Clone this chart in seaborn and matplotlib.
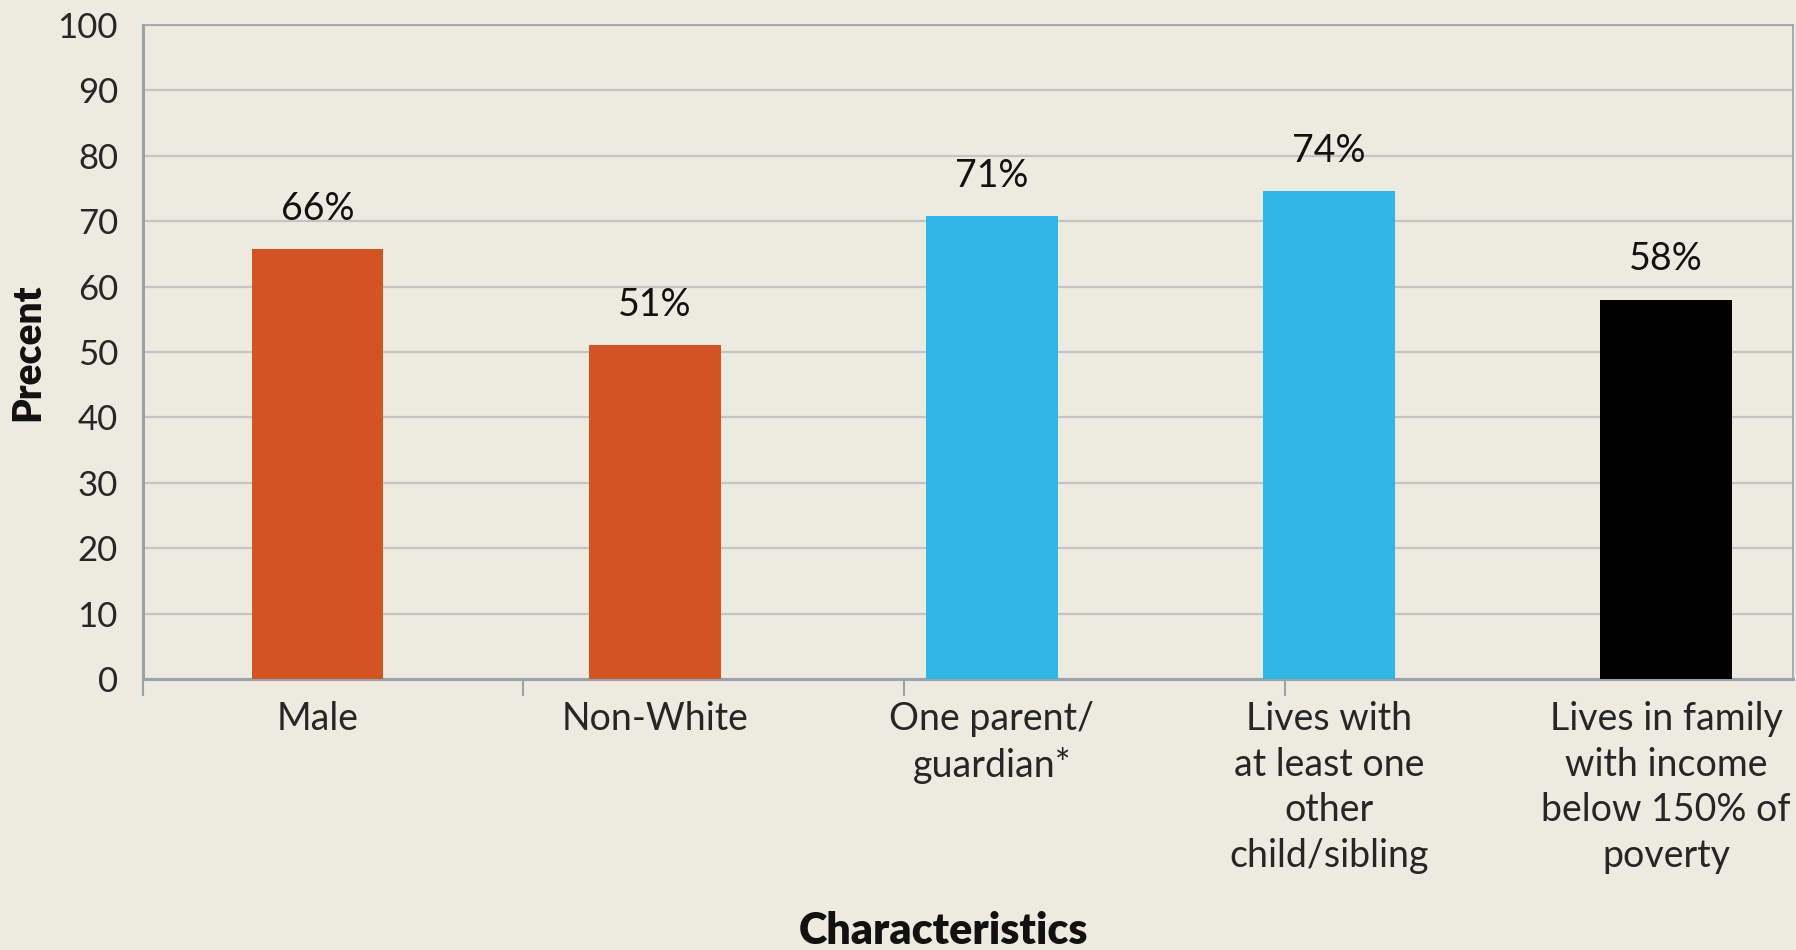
import matplotlib
matplotlib.use("Agg")
import matplotlib.pyplot as plt
import seaborn as sns
import pandas as pd

categories = ["Male", "Non-White", "One parent/\nguardian*",
              "Lives with\nat least one\nother\nchild/sibling",
              "Lives in family\nwith income\nbelow 150% of\npoverty"]
values = [65.7, 51.0, 70.8, 74.6, 58.0]
value_labels = ["66%", "51%", "71%", "74%", "58%"]
colors = ["#D35322", "#D35322", "#2FB6E5", "#2FB6E5", "#000000"]
y_ticks = [0, 10, 20, 30, 40, 50, 60, 70, 80, 90, 100]

BG = "#EDEBE0"
sns.set_theme(style="white")
plt.rcParams["font.family"] = ["Lato", "DejaVu Sans"]

fig = plt.figure(figsize=(17.96, 9.5), dpi=100, facecolor=BG)
ax = fig.add_axes([143/1796, 1-679/950, (1793-143)/1796, (679-25)/950])
ax.set_facecolor(BG)

df = pd.DataFrame({"cat": categories, "val": values})
sns.barplot(data=df, x="cat", y="val", hue="cat", palette=colors,
            legend=False, width=0.39, saturation=1, ax=ax, zorder=3,
            linewidth=0, edgecolor="none")

ax.set_ylim(0, 100)
ax.set_xlim(-0.518, 4.376)
ax.set_yticks(y_ticks)
ax.set_yticklabels([str(t) for t in y_ticks], fontsize=25)
ax.yaxis.grid(True, color="#C4C4C2", linewidth=1.6, zorder=0)
ax.set_axisbelow(True)
ax.tick_params(axis="y", length=0, pad=18)
ax.tick_params(axis="x", which="major", length=0, pad=16, labelsize=27)
for lab in ax.get_xticklabels():
    lab.set_linespacing(1.33)
    lab.set_verticalalignment("top")

ax.set_xticks([-0.518, 0.61, 1.74, 2.87], minor=True)
ax.tick_params(axis="x", which="minor", bottom=True, length=12, width=1.5,
               color="#9AA2AB", direction="out")

for side in ["left", "bottom"]:
    ax.spines[side].set_color("#9AA2AB")
    ax.spines[side].set_linewidth(2.2)
for side in ["top", "right"]:
    ax.spines[side].set_color("#9AA2AB")
    ax.spines[side].set_linewidth(1.2)

for i, (v, t) in enumerate(zip(values, value_labels)):
    ax.annotate(t, (i, v), xytext=(0, 29), textcoords="offset points",
                ha="center", va="center", fontsize=27, color="#111111")

ax.set_ylabel("Precent", fontsize=28, fontweight="heavy", labelpad=8, color="#111111")
ax.set_xlabel("Characteristics", fontsize=31, fontweight="heavy", color="#111111")
ax.xaxis.set_label_coords(0.485, -0.385)
ax.xaxis.label.set_verticalalignment("center")

fig.savefig("out.png", dpi=100, facecolor=BG)
